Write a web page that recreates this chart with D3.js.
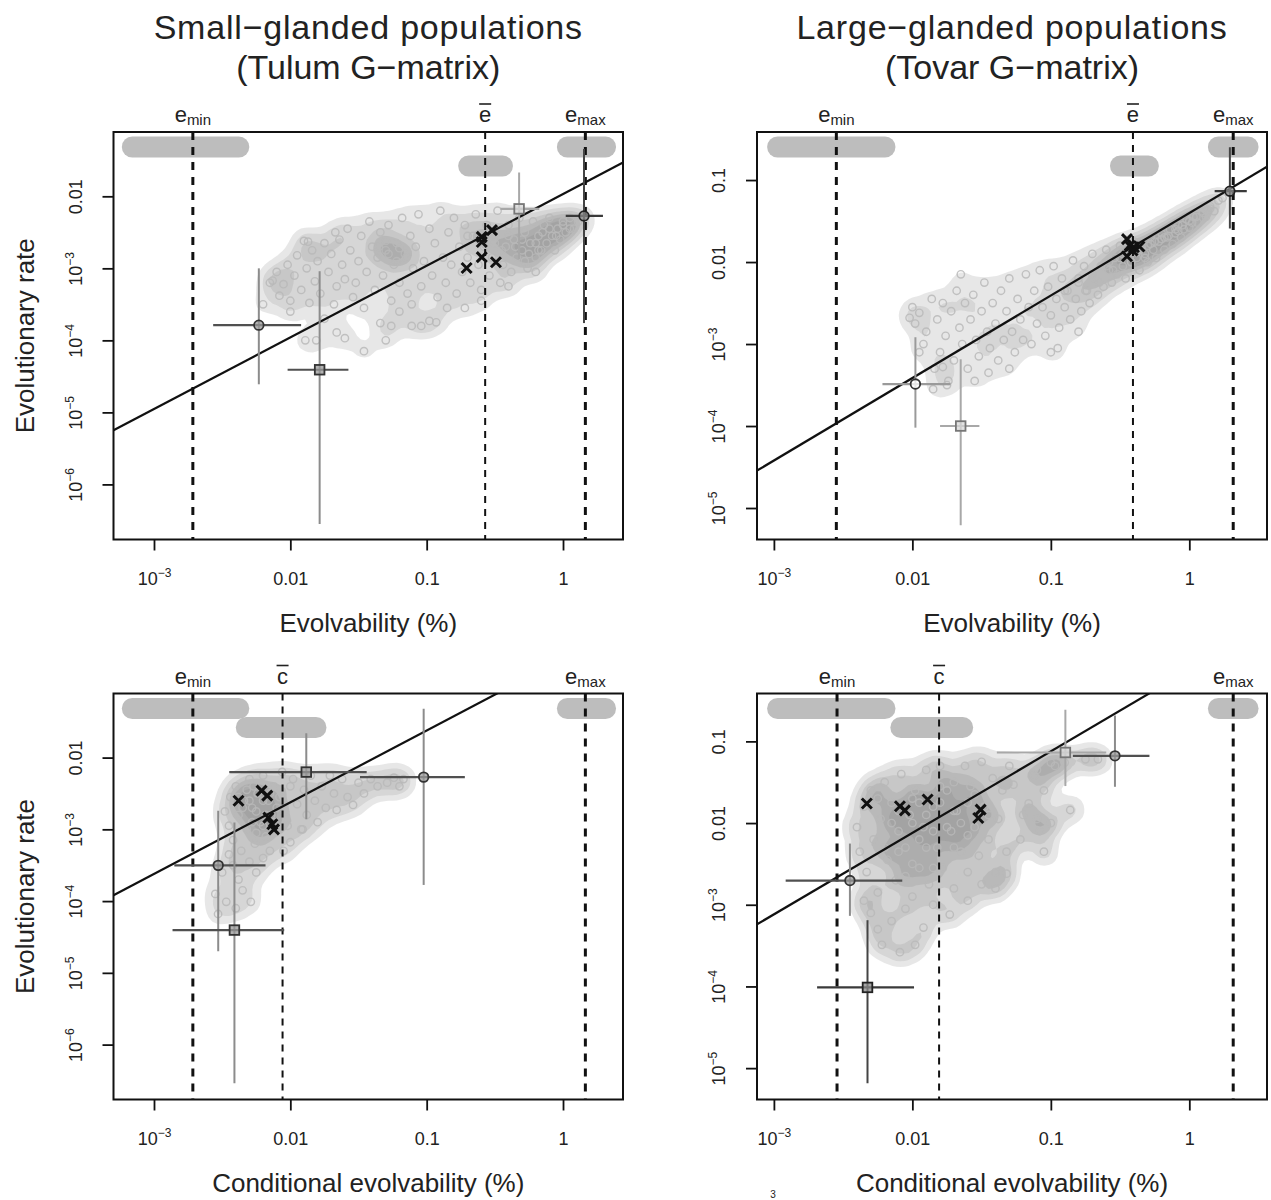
<!doctype html>
<html>
<head>
<meta charset="utf-8">
<title>Evolvability vs evolutionary rate</title>
<script src="https://cdn.jsdelivr.net/npm/d3@7"></script>
<style>
  body { margin: 0; background: #fff; }
  svg text { font-family: "Liberation Sans", Arial, Helvetica, sans-serif; fill: #222; }
</style>
</head>
<body>
<script>
// all values below are log10 (evolvability %, evolutionary rate)
var xTickVals = [-3, -2, -1, 0];
var xTickText = ["10^−3", "0.01", "0.1", "1"];
var yTickValsSmall = [-2, -3, -4, -5, -6];
var yTickTextSmall = ["0.01", "10^−3", "10^−4", "10^−5", "10^−6"];
var yTickValsLarge = [-1, -2, -3, -4, -5];
var yTickTextLarge = ["0.1", "0.01", "10^−3", "10^−4", "10^−5"];

// e_min, mean (e-bar / c-bar), e_max
var refTL = [-2.715, -0.571, 0.164];
var refTR = [-2.549, -0.407, 0.317];
var refBL = [-2.715, -2.057, 0.164];
var refBR = [-2.544, -1.807, 0.317];

// intervals drawn as grey bars at the top
var ciTL = [[-3.236, -2.301], [-0.769, -0.367], [-0.045, 0.389]];
var ciTR = [[-3.049, -2.122], [-0.573, -0.22], [0.134, 0.5]];
var ciBL = [[-3.236, -2.301], [-2.4, -1.735], [-0.045, 0.389]];
var ciBR = [[-3.049, -2.122], [-2.159, -1.561], [0.134, 0.5]];

// regression: intercept, slope
var fitTL = [-1.969, 0.995];
var fitTR = [-1.403, 1.006];
var fitBL = [-0.623, 1.0];
var fitBR = [-0.124, 0.998];

var cloudTL = [
 [-2.15,-3.2],[-2.10,-3.05],[-2.08,-3.38],[-2.05,-3.22],[-2.02,-2.95],[-2.00,-3.45],[-1.97,-3.1],[-1.95,-2.82],[-1.92,-3.3],[-1.90,-2.62],
 [-1.88,-3.0],[-1.86,-3.48],[-1.84,-2.75],[-1.82,-3.18],[-1.80,-2.9],[-1.78,-3.35],[-1.75,-2.65],[-1.72,-3.05],[-1.70,-2.8],[-1.68,-3.5],
 [-1.66,-3.25],[-1.64,-2.6],[-1.62,-2.95],[-1.60,-3.15],[-1.58,-2.45],[-1.56,-2.75],[-1.54,-3.4],[-1.52,-3.2],[-1.50,-2.9],[-1.48,-2.55],
 [-1.46,-3.55],[-1.44,-3.05],[-1.42,-2.35],[-1.40,-2.7],[-1.38,-3.3],[-1.36,-2.85],[-1.34,-2.5],[-1.32,-3.1],[-1.30,-2.75],[-1.28,-2.4],
 [-1.26,-3.45],[-1.24,-2.95],[-1.22,-2.65],[-1.20,-3.2],[-1.18,-2.3],[-1.16,-2.8],[-1.14,-3.35],[-1.12,-2.55],[-1.10,-3.0],[-1.08,-2.7],
 [-1.06,-2.25],[-1.04,-3.25],[-1.02,-2.9],[-0.98,-2.45],[-0.96,-3.1],[-0.94,-2.65],[-0.92,-3.4],[-0.90,-2.2],[-0.88,-2.85],[-0.86,-3.2],
 [-0.84,-2.5],[-0.82,-2.95],[-0.80,-2.3],[-0.78,-3.35],[-0.76,-2.7],[-0.74,-3.05],[-0.72,-2.4],[-0.70,-2.85],[-0.68,-3.2],[-0.66,-2.55],
 [-0.64,-2.25],[-0.62,-2.95],[-0.60,-3.3],[-0.58,-2.7],[-0.56,-2.4],[-0.54,-3.1],[-0.52,-2.85],[-0.50,-2.55],[-0.48,-2.2],[-0.46,-3.2],
 [-0.44,-2.95],[-0.42,-2.7],[-0.40,-2.4],[-0.38,-3.05],[-0.36,-2.6],[-0.34,-2.85],[-0.32,-2.3],[-0.30,-2.75],[-0.28,-2.5],[-0.26,-3.0],
 [-0.24,-2.65],[-0.22,-2.35],[-0.20,-2.85],[-0.18,-2.55],[-0.16,-2.75],[-0.14,-2.4],[-0.12,-2.65],[-0.10,-2.3],[-0.08,-2.55],[-0.06,-2.75],
 [-0.04,-2.45],[-0.02,-2.6],[0.00,-2.35],[0.02,-2.5],[0.05,-2.3],[0.08,-2.45],[0.11,-2.35],[0.14,-2.3],
 [-2.13,-3.17],[-1.89,-4.0],[-1.81,-4.0],[-1.66,-3.89],[-1.60,-3.97],[-1.46,-4.15],[-1.34,-3.76],[-1.30,-4.0],[-1.26,-3.8],[-1.11,-3.8],
 [-1.04,-3.8],[-0.98,-3.73],[-0.93,-3.75],[-1.11,-3.5],[-0.72,-3.55],[-1.87,-2.63],[-1.67,-2.5],[-2.2,-3.5],[-2.0,-3.6],[-1.75,-3.7],
 [-1.2,-3.6],[-0.85,-3.55],[-0.6,-3.45],[-0.4,-3.25],[-0.2,-3.05],
 [-1.35,-2.7],[-1.28,-2.8],[-1.2,-2.72],[-1.15,-2.85],[-1.3,-2.62],[-1.22,-2.9],[-0.7,-2.55],[-0.6,-2.6],[-0.5,-2.65],[-0.45,-2.75],
 [-0.35,-2.7],[-0.3,-2.6],[-0.25,-2.8],[-0.2,-2.65],[-0.15,-2.5],[-0.1,-2.45],[-0.05,-2.55],[0.0,-2.4],[0.05,-2.45],[-0.55,-2.5],
 [-0.4,-2.55],[-0.28,-2.9],[-0.18,-2.75]
];

var cloudTR = [
 [-2.0,-2.55],[-1.98,-2.75],[-1.95,-2.62],[-1.92,-3.0],[-1.90,-2.85],[-1.86,-2.45],[-1.84,-3.3],[-1.82,-2.7],[-1.80,-3.1],[-1.78,-2.5],
 [-1.76,-2.9],[-1.74,-3.45],[-1.72,-2.6],[-1.70,-3.2],[-1.68,-2.35],[-1.66,-2.8],[-1.64,-3.0],[-1.62,-2.5],[-1.60,-3.3],[-1.58,-2.7],
 [-1.56,-2.4],[-1.54,-2.95],[-1.52,-3.15],[-1.50,-2.6],[-1.48,-2.25],[-1.46,-2.85],[-1.44,-3.05],[-1.42,-2.5],[-1.40,-2.75],[-1.38,-3.2],
 [-1.36,-2.35],[-1.34,-2.95],[-1.32,-2.6],[-1.30,-2.2],[-1.28,-2.85],[-1.26,-3.1],[-1.24,-2.45],[-1.22,-2.7],[-1.20,-2.95],[-1.18,-2.15],
 [-1.16,-2.55],[-1.14,-3.0],[-1.12,-2.35],[-1.10,-2.75],[-1.08,-2.1],[-1.06,-2.55],[-1.04,-2.9],[-1.02,-2.3],[-1.0,-2.65],[-0.98,-2.05],
 [-0.96,-2.45],[-0.94,-2.8],[-0.92,-2.2],[-0.90,-2.55],[-0.88,-2.35],[-0.86,-2.7],[-0.84,-1.98],[-0.82,-2.45],[-0.80,-2.2],[-0.78,-2.6],
 [-0.76,-2.05],[-0.74,-2.35],[-0.72,-2.5],[-0.70,-1.9],[-0.68,-2.2],[-0.66,-2.4],[-0.64,-2.05],[-0.62,-2.3],
 [-0.60,-1.85],[-0.58,-2.1],[-0.56,-2.25],[-0.54,-1.95],[-0.52,-2.15],[-0.50,-1.8],[-0.48,-2.05],[-0.46,-2.2],[-0.44,-1.9],[-0.42,-2.0],
 [-0.40,-1.75],[-0.38,-1.95],[-0.36,-2.1],[-0.34,-1.8],[-0.32,-1.9],[-0.30,-2.0],[-0.28,-1.7],[-0.26,-1.85],[-0.24,-1.95],[-0.22,-1.75],
 [-0.20,-1.65],[-0.18,-1.85],[-0.16,-1.7],[-0.14,-1.6],[-0.12,-1.78],[-0.10,-1.65],[-0.08,-1.55],[-0.06,-1.7],[-0.04,-1.6],[-0.02,-1.48],
 [0.0,-1.58],[0.03,-1.45],[0.06,-1.52],[0.09,-1.38],[0.12,-1.45],[0.15,-1.32],[0.18,-1.38],[0.21,-1.25],[0.24,-1.22],
 [-2.02,-2.68],[-1.95,-3.1],[-1.85,-3.55],[-1.78,-3.28],[-1.75,-3.5],[-1.55,-3.45],[-1.45,-3.35],[-1.0,-3.1],[-0.95,-3.05],[-0.8,-2.85],
 [-1.3,-3.3],[-1.65,-2.15],
 [-0.9,-2.35],[-0.8,-2.25],[-0.7,-2.15],[-0.6,-2.05],[-0.5,-1.95],[-0.45,-1.9],[-0.4,-1.85],[-0.35,-1.85],[-0.3,-1.8],[-0.25,-1.75],
 [-0.2,-1.72],[-0.15,-1.68],[-0.1,-1.6],[-0.05,-1.55],[0.0,-1.5],[0.05,-1.45],[0.1,-1.4],[0.15,-1.35],[-0.55,-2.1],[-0.65,-2.25],
 [-0.75,-2.35],[-0.42,-2.0],[-0.32,-1.95],[-0.58,-2.0],[-0.48,-1.9],[-0.38,-1.88],[-0.28,-1.78],[-0.18,-1.7],[-0.08,-1.62],[0.02,-1.52]
];

var cloudBL = [
 [-2.48,-2.75],[-2.45,-2.95],[-2.44,-2.55],[-2.42,-3.15],[-2.40,-2.4],[-2.38,-2.8],[-2.36,-3.3],[-2.34,-2.6],[-2.32,-3.0],[-2.30,-2.3],
 [-2.28,-2.7],[-2.26,-3.2],[-2.24,-2.5],[-2.22,-2.9],[-2.20,-2.25],[-2.18,-3.1],[-2.16,-2.6],[-2.14,-2.8],[-2.12,-2.4],[-2.10,-3.0],
 [-2.08,-2.55],[-2.06,-2.2],[-2.04,-2.75],[-2.02,-2.95],[-2.0,-2.4],
 [-2.53,-4.18],[-2.47,-4.01],[-2.29,-4.01],[-2.35,-3.85],[-2.5,-3.6],[-2.42,-3.5],[-2.3,-3.45],[-2.2,-3.4],[-2.38,-3.7],[-2.45,-3.35],
 [-2.25,-3.6],[-2.15,-3.3],[-2.55,-3.9],[-2.4,-4.1],
 [-1.98,-2.3],[-1.95,-2.65],[-1.92,-3.0],[-1.9,-2.45],[-1.88,-2.8],[-1.85,-2.25],[-1.82,-2.6],[-1.8,-2.9],[-1.77,-2.4],[-1.74,-2.7],
 [-1.71,-2.25],[-1.68,-2.5],[-1.66,-2.73],[-1.62,-2.3],[-1.58,-2.55],[-1.54,-2.66],[-1.5,-2.35],[-1.46,-2.5],[-1.41,-2.3],[-1.36,-2.4],
 [-1.29,-2.35],[-1.24,-2.28],[-1.17,-2.3],[-1.2,-2.4],[-2.0,-3.18],[-1.91,-3.0],[-2.05,-3.3],
 [-2.3,-2.6],[-2.25,-2.75],[-2.2,-2.6],[-2.15,-2.5],[-2.28,-2.9],[-2.35,-2.7],[-2.2,-2.95],[-2.1,-2.7],[-2.32,-2.45],[-2.25,-3.05],
 [-2.38,-2.55],[-2.18,-2.8],[-2.27,-2.4],[-2.12,-2.9]
];

var cloudBR = [
 [-2.40,-2.05],[-2.38,-2.35],[-2.35,-1.8],[-2.33,-2.6],[-2.30,-1.6],[-2.28,-2.2],[-2.25,-2.85],[-2.23,-1.95],[-2.20,-1.5],[-2.18,-2.45],
 [-2.15,-1.75],[-2.12,-2.7],[-2.10,-2.1],[-2.08,-1.4],[-2.05,-2.3],[-2.02,-1.9],[-2.0,-2.9],[-1.98,-1.6],[-1.95,-2.55],[-1.92,-2.05],
 [-1.9,-1.35],[-1.88,-2.75],[-1.85,-1.8],[-1.82,-2.3],[-1.8,-1.3],[-1.78,-2.55],[-1.75,-1.6],[-1.72,-2.1],[-1.7,-2.8],[-1.68,-1.85],
 [-1.65,-2.35],[-1.62,-1.3],[-1.6,-2.6],[-1.58,-1.55],[-1.55,-2.05],[-1.52,-2.4],[-1.5,-1.25],[-1.48,-1.8],[-1.45,-2.2],[-1.42,-1.45],
 [-1.4,-2.6],[-1.38,-1.95],[-1.35,-1.6],[-1.32,-2.35],
 [-2.22,-3.49],[-2.09,-3.58],[-1.98,-3.49],[-1.92,-3.28],[-1.73,-3.12],[-2.3,-3.1],[-2.15,-3.2],[-2.35,-2.95],[-2.05,-3.05],[-1.85,-3.0],
 [-1.6,-2.95],[-2.25,-3.3],
 [-1.3,-1.3],[-1.27,-1.53],[-1.22,-2.2],[-1.2,-1.9],[-1.16,-1.76],[-1.08,-2.1],[-1.12,-1.42],[-1.1,-1.35],[-1.32,-2.62],
 [-1.0,-1.26],[-0.97,-1.3],[-0.9,-1.26],[-0.86,-1.84],[-0.75,-1.22],[-0.66,-1.22],[-1.05,-1.6],[-1.0,-2.0],
 [-1.05,-2.35],[-1.4,-2.8],[-1.5,-2.75],[-1.1,-1.95],
 [-2.0,-1.7],[-1.9,-1.9],[-1.8,-1.75],[-1.7,-1.5],[-1.6,-1.75],[-2.1,-2.35],[-2.0,-2.5],[-1.9,-2.3],[-1.75,-2.05],[-1.85,-2.55],
 [-2.15,-2.0],[-1.65,-2.0],[-2.25,-1.7],[-2.1,-1.85],[-1.95,-1.75],[-1.85,-2.1],[-1.7,-2.3],[-1.6,-2.15],[-1.55,-1.65],[-1.45,-1.9],
 [-2.05,-2.65],[-1.95,-2.2],[-2.2,-2.3],[-1.8,-1.55],[-2.0,-2.0],[-1.7,-1.85]
];

// estimates with 95% intervals (type: circle / square, set: shading group)
var markTL = [
 {type: "circle", set: "b", x: -2.231, y: -3.789, xlo: -2.566, xhi: -1.921, ylo: -4.61, yhi: -3.0},
 {type: "square", set: "b", x: -1.785, y: -4.408, xlo: -2.02, xhi: -1.574, ylo: -6.55, yhi: -3.04},
 {type: "square", set: "c", x: -0.322, y: -2.174, xlo: -0.459, xhi: -0.174, ylo: -2.869, yhi: -1.671},
 {type: "circle", set: "a", x: 0.154, y: -2.272, xlo: 0.02, xhi: 0.293, ylo: -3.76, yhi: -1.343}
];
var markTR = [
 {type: "circle", set: "o", x: -1.978, y: -3.488, xlo: -2.216, xhi: -1.725, ylo: -4.02, yhi: -2.917},
 {type: "square", set: "c", x: -1.651, y: -4.0, xlo: -1.80, xhi: -1.516, ylo: -5.21, yhi: -3.186},
 {type: "circle", set: "a", x: 0.293, y: -1.136, xlo: 0.183, xhi: 0.415, ylo: -1.59, yhi: -0.6}
];
var markBL = [
 {type: "circle", set: "b", x: -2.529, y: -3.502, xlo: -2.851, xhi: -2.182, ylo: -4.70, yhi: -2.742},
 {type: "square", set: "b", x: -2.41, y: -4.404, xlo: -2.864, xhi: -2.045, ylo: -6.54, yhi: -2.906},
 {type: "square", set: "b", x: -1.883, y: -2.202, xlo: -2.448, xhi: -1.44, ylo: -2.859, yhi: -1.662},
 {type: "circle", set: "b", x: -1.022, y: -2.272, xlo: -1.489, xhi: -0.72, ylo: -3.775, yhi: -1.319}
];
var markBR = [
 {type: "circle", set: "b", x: -2.451, y: -2.704, xlo: -2.915, xhi: -2.073, ylo: -3.136, yhi: -2.251},
 {type: "square", set: "a", x: -2.324, y: -4.012, xlo: -2.688, xhi: -1.988, ylo: -5.185, yhi: -3.189},
 {type: "square", set: "c", x: -0.895, y: -1.136, xlo: -1.39, xhi: -0.6, ylo: -1.547, yhi: -0.613},
 {type: "circle", set: "b", x: -0.537, y: -1.177, xlo: -0.841, xhi: -0.288, ylo: -1.556, yhi: -0.683}
];

var crossTL = [[-0.596,-2.563],[-0.521,-2.469],[-0.596,-2.634],[-0.707,-2.995],[-0.596,-2.845],[-0.492,-2.915]];
var crossTR = [[-0.45,-1.72],[-0.43,-1.80],[-0.40,-1.82],[-0.36,-1.81],[-0.45,-1.93],[-0.41,-1.86]];
var crossBL = [[-2.38,-2.601],[-2.211,-2.46],[-2.169,-2.531],[-2.161,-2.836],[-2.132,-2.93],[-2.12,-3.0]];
var crossBR = [[-2.329,-1.761],[-2.09,-1.794],[-2.054,-1.844],[-1.89,-1.712],[-1.507,-1.835],[-1.524,-1.938]];

var titles = [["Small−glanded populations", "(Tulum G−matrix)"], ["Large−glanded populations", "(Tovar G−matrix)"]];
var xTitles = ["Evolvability (%)", "Conditional evolvability (%)"];
var yTitle = "Evolutionary rate";

// ---------------------------------------------------------------
var W = 1271, H = 1200;
var svg = d3.select("body").append("svg").attr("width", W).attr("height", H);

var setStyle = {
  a: {h: "#3a3a3a", v: "#444", fill: "#8a8a8a", stroke: "#222"},
  b: {h: "#505050", v: "#8c8c8c", fill: "#9a9a9a", stroke: "#333"},
  c: {h: "#a8a8a8", v: "#a8a8a8", fill: "#d8d8d8", stroke: "#777"},
  o: {h: "#9a9a9a", v: "#9a9a9a", fill: "#fff", stroke: "#333"}
};

var panels = [
  {l: 113.5, r: 623, t: 132, b: 539.5, xd: [-3.297, 0.44], yd: [-6.765, -1.107], yv: yTickValsSmall, yt: yTickTextSmall,
   ref: refTL, ci: ciTL, fit: fitTL, cloud: cloudTL, mark: markTL, cross: crossTL, mean: "e", col: 0, row: 0},
  {l: 757, r: 1267, t: 132, b: 539.5, xd: [-3.122, 0.561], yd: [-5.384, -0.414], yv: yTickValsLarge, yt: yTickTextLarge,
   ref: refTR, ci: ciTR, fit: fitTR, cloud: cloudTR, mark: markTR, cross: crossTR, mean: "e", col: 1, row: 0},
  {l: 113.5, r: 623, t: 693.5, b: 1099.5, xd: [-3.297, 0.44], yd: [-6.765, -1.107], yv: yTickValsSmall, yt: yTickTextSmall,
   ref: refBL, ci: ciBL, fit: fitBL, cloud: cloudBL, mark: markBL, cross: crossBL, mean: "c", col: 0, row: 1},
  {l: 757, r: 1267, t: 693.5, b: 1099.5, xd: [-3.122, 0.561], yd: [-5.384, -0.414], yv: yTickValsLarge, yt: yTickTextLarge,
   ref: refBR, ci: ciBR, fit: fitBR, cloud: cloudBR, mark: markBR, cross: crossBR, mean: "c", col: 1, row: 1}
];

function powerLabel(sel, s, small, up) {
  sel.text(null);
  if (s.indexOf("10^") === 0) {
    sel.append("tspan").text("10");
    sel.append("tspan").attr("dy", -up).attr("font-size", small).text(s.slice(3));
  } else {
    sel.text(s);
  }
}

panels.forEach(function(p, i) {
  var x = d3.scaleLog().domain(p.xd.map(function(v) { return Math.pow(10, v); })).range([p.l, p.r]);
  var y = d3.scaleLog().domain(p.yd.map(function(v) { return Math.pow(10, v); })).range([p.b, p.t]);
  var X = function(v) { return x(Math.pow(10, v)); };
  var Y = function(v) { return y(Math.pow(10, v)); };
  var g = svg.append("g");
  var w = p.r - p.l, h = p.b - p.t;

  var clipId = "clip" + i;
  svg.append("clipPath").attr("id", clipId).append("rect")
    .attr("x", p.l).attr("y", p.t).attr("width", w).attr("height", h);
  var inner = g.append("g").attr("clip-path", "url(#" + clipId + ")");

  // interval bars
  inner.selectAll("rect.ci").data(p.ci).join("rect")
    .attr("class", "ci")
    .attr("x", function(d) { return X(d[0]); })
    .attr("width", function(d) { return X(d[1]) - X(d[0]); })
    .attr("y", function(d, k) { return p.t + (k === 1 ? 34 : 15) - 10.5; })
    .attr("height", 21).attr("rx", 10.5)
    .attr("fill", "#bdbdbd");

  // density shading standing in for the overplotted point cloud
  var density = d3.contourDensity()
    .x(function(d) { return X(d[0]) - p.l; })
    .y(function(d) { return Y(d[1]) - p.t; })
    .size([w, h]).bandwidth(8);
  var maxD = d3.max(density.thresholds(40)(p.cloud), function(c) { return c.value; });
  var fracs = [0.1, 0.22, 0.36, 0.5, 0.65, 0.8];
  var dens = density.thresholds(fracs.map(function(f) { return f * maxD; }))(p.cloud);
  inner.append("g").attr("transform", "translate(" + p.l + "," + p.t + ")")
    .selectAll("path").data(dens).join("path")
    .attr("d", d3.geoPath())
    .attr("fill", "#5c5c5c")
    .attr("fill-opacity", function(d, k) { return k === 0 ? 0.15 : 0.12; });

  inner.append("g").selectAll("circle").data(p.cloud).join("circle")
    .attr("cx", function(d) { return X(d[0]); })
    .attr("cy", function(d) { return Y(d[1]); })
    .attr("r", 3.7)
    .attr("fill", "none").attr("stroke", "#b8b8b8").attr("stroke-opacity", 0.85).attr("stroke-width", 1.4);

  // reference lines
  inner.selectAll("line.ref").data(p.ref).join("line")
    .attr("x1", function(d) { return X(d); }).attr("x2", function(d) { return X(d); })
    .attr("y1", p.t).attr("y2", p.b)
    .attr("stroke", "#111")
    .attr("stroke-width", function(d, k) { return k === 1 ? 2 : 3; })
    .attr("stroke-dasharray", function(d, k) { return k === 1 ? "7,6" : "8,7"; });

  // regression line
  inner.append("line")
    .attr("x1", X(p.xd[0])).attr("y1", Y(p.fit[0] + p.fit[1] * p.xd[0]))
    .attr("x2", X(p.xd[1])).attr("y2", Y(p.fit[0] + p.fit[1] * p.xd[1]))
    .attr("stroke", "#111").attr("stroke-width", 2.2);

  // estimates with error bars
  var mk = inner.append("g").selectAll("g").data(p.mark).join("g");
  mk.append("line")
    .attr("x1", function(d) { return X(d.x); }).attr("x2", function(d) { return X(d.x); })
    .attr("y1", function(d) { return Y(d.ylo); }).attr("y2", function(d) { return Y(d.yhi); })
    .attr("stroke", function(d) { return setStyle[d.set].v; }).attr("stroke-width", 2);
  mk.append("line")
    .attr("x1", function(d) { return X(d.xlo); }).attr("x2", function(d) { return X(d.xhi); })
    .attr("y1", function(d) { return Y(d.y); }).attr("y2", function(d) { return Y(d.y); })
    .attr("stroke", function(d) { return setStyle[d.set].h; }).attr("stroke-width", 2.2);
  mk.each(function(d) {
    var s = setStyle[d.set], sel = d3.select(this);
    if (d.type === "circle") {
      sel.append("circle").attr("cx", X(d.x)).attr("cy", Y(d.y)).attr("r", 4.8)
        .attr("fill", s.fill).attr("fill-opacity", 0.75).attr("stroke", s.stroke).attr("stroke-width", 1.8);
    } else {
      sel.append("rect").attr("x", X(d.x) - 4.8).attr("y", Y(d.y) - 4.8).attr("width", 9.6).attr("height", 9.6)
        .attr("fill", s.fill).attr("fill-opacity", 0.75).attr("stroke", s.stroke).attr("stroke-width", 1.8);
    }
  });

  // crosses
  inner.append("g").selectAll("path").data(p.cross).join("path")
    .attr("transform", function(d) { return "translate(" + X(d[0]) + "," + Y(d[1]) + ")"; })
    .attr("d", "M-5,-5L5,5M-5,5L5,-5")
    .attr("stroke", "#111").attr("stroke-width", 3).attr("fill", "none");

  // frame
  g.append("rect").attr("x", p.l).attr("y", p.t).attr("width", w).attr("height", h)
    .attr("fill", "none").attr("stroke", "#111").attr("stroke-width", 2);

  // axes
  var xa = g.append("g").attr("transform", "translate(0," + p.b + ")")
    .call(d3.axisBottom(x).tickValues(xTickVals.map(function(v) { return Math.pow(10, v); }))
      .tickSize(11).tickSizeOuter(0).tickFormat(function() { return ""; }));
  xa.select(".domain").remove();
  xa.selectAll(".tick line").attr("stroke", "#111").attr("stroke-width", 1.8);
  xa.selectAll(".tick text")
    .attr("y", 45).attr("dy", null).attr("font-size", 18)
    .each(function(d, k) { powerLabel(d3.select(this), xTickText[k], 12, 8); });

  var ya = g.append("g").attr("transform", "translate(" + p.l + ",0)")
    .call(d3.axisLeft(y).tickValues(p.yv.map(function(v) { return Math.pow(10, v); }))
      .tickSize(11).tickSizeOuter(0).tickFormat(function() { return ""; }));
  ya.select(".domain").remove();
  ya.selectAll(".tick line").attr("stroke", "#111").attr("stroke-width", 1.8);
  ya.selectAll(".tick text")
    .attr("x", null).attr("dy", null)
    .attr("transform", "translate(-32,0) rotate(-90)")
    .attr("text-anchor", "middle").attr("font-size", 18)
    .each(function(d, k) { powerLabel(d3.select(this), p.yt[k], 12, 8); });

  // labels above the frame
  var names = [["e", "min"], [p.mean, ""], ["e", "max"]];
  p.ref.forEach(function(v, k) {
    var t = g.append("text").attr("x", X(v)).attr("y", p.t - 10)
      .attr("text-anchor", "middle").attr("font-size", 22);
    t.append("tspan").text(names[k][0]);
    if (names[k][1]) t.append("tspan").attr("font-size", 15).attr("dy", 3).text(names[k][1]);
    if (k === 1) {
      g.append("line").attr("x1", X(v) - 6).attr("x2", X(v) + 6)
        .attr("y1", p.t - 28).attr("y2", p.t - 28)
        .attr("stroke", "#222").attr("stroke-width", 1.6);
    }
  });

  // axis titles
  var cx = (p.l + p.r) / 2;
  g.append("text").attr("x", cx).attr("y", p.b + 92).attr("text-anchor", "middle")
    .attr("font-size", 26).text(xTitles[p.row]);
  if (p.col === 0) {
    g.append("text").attr("transform", "translate(34," + ((p.t + p.b) / 2) + ") rotate(-90)")
      .attr("text-anchor", "middle").attr("font-size", 26).text(yTitle);
  }
  if (p.row === 0) {
    g.append("text").attr("x", cx).attr("y", 39).attr("text-anchor", "middle")
      .attr("font-size", 34).attr("letter-spacing", 0.8).text(titles[p.col][0]);
    g.append("text").attr("x", cx).attr("y", 79).attr("text-anchor", "middle")
      .attr("font-size", 34).text(titles[p.col][1]);
  }
});

// stray page-number fragment at the very bottom of the source figure
svg.append("text").attr("x", 773).attr("y", 1198).attr("font-size", 10).attr("text-anchor", "middle").text("3");
</script>
</body>
</html>
